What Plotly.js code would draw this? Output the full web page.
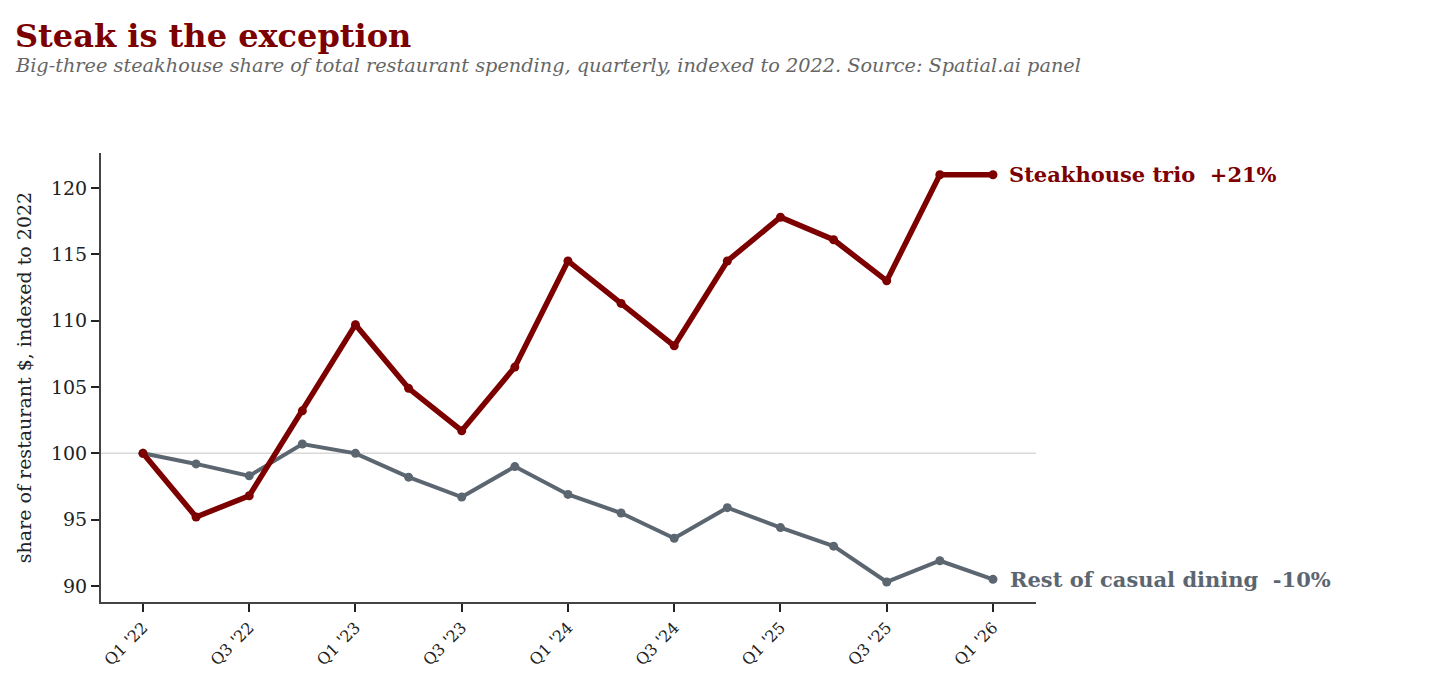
<!DOCTYPE html>
<html>
<head>
<meta charset="utf-8">
<script src="https://cdn.plot.ly/plotly-3.0.1.min.js"></script>
<style>html,body{margin:0;padding:0;background:#fff;}#chart{width:1440px;height:700px;}</style>
</head>
<body>
<div id="chart"></div>
<script>
const quarters = ["Q1 '22","Q2 '22","Q3 '22","Q4 '22","Q1 '23","Q2 '23","Q3 '23","Q4 '23","Q1 '24","Q2 '24","Q3 '24","Q4 '24","Q1 '25","Q2 '25","Q3 '25","Q4 '25","Q1 '26"];
const steakhouse = [100, 95.2, 96.8, 103.2, 109.7, 104.9, 101.7, 106.5, 114.5, 111.3, 108.1, 114.5, 117.8, 116.1, 113.0, 121.0, 121.0];
const restCasual = [100, 99.2, 98.3, 100.7, 100.0, 98.2, 96.7, 99.0, 96.9, 95.5, 93.6, 95.9, 94.4, 93.0, 90.3, 91.9, 90.5];
const tickLabels = ["Q1 '22","Q3 '22","Q1 '23","Q3 '23","Q1 '24","Q3 '24","Q1 '25","Q3 '25","Q1 '26"];
const seriesNames = ["Steakhouse trio", "Rest of casual dining"];
const endLabels = ["Steakhouse trio  +21%", "Rest of casual dining  -10%"];

const FONT = "Georgia, 'DejaVu Serif', serif";
const RED = "#7d0000";
const GRAY = "#5c6670";

const traces = [
  {x: quarters, y: restCasual, name: seriesNames[1], mode: "lines+markers",
   line: {color: GRAY, width: 4}, marker: {color: GRAY, size: 9}},
  {x: quarters, y: steakhouse, name: seriesNames[0], mode: "lines+markers",
   line: {color: RED, width: 5.5}, marker: {color: RED, size: 9}}
];

const layout = {
  width: 1440, height: 700,
  margin: {l: 101, r: 404, t: 153, b: 98},
  paper_bgcolor: "#fff", plot_bgcolor: "#fff",
  showlegend: false,
  font: {family: FONT, color: "#222"},
  title: {
    text: "<b>Steak is the exception</b>",
    x: 0.0104, xanchor: "left", y: 0.965, yanchor: "top",
    font: {family: FONT, size: 32, color: RED}
  },
  xaxis: {
    type: "category", range: [-0.79, 16.81],
    tickmode: "array", tickvals: tickLabels, ticktext: tickLabels,
    tickangle: -45, ticks: "outside", ticklen: 8, tickwidth: 2, tickcolor: "#222",
    showline: true, linecolor: "#444", linewidth: 2, showgrid: false, zeroline: false,
    tickfont: {family: FONT, size: 16, color: "#222"}
  },
  yaxis: {
    range: [88.79, 122.64], tickvals: [90, 95, 100, 105, 110, 115, 120],
    ticks: "outside", ticklen: 8, tickwidth: 2, tickcolor: "#222",
    showline: true, linecolor: "#444", linewidth: 2, showgrid: false, zeroline: false,
    tickfont: {family: FONT, size: 19, color: "#222"},
    title: {text: "share of restaurant $, indexed to 2022", font: {family: FONT, size: 19, color: "#222"}, standoff: 14}
  },
  shapes: [
    {type: "line", xref: "paper", x0: 0, x1: 1, yref: "y", y0: 100, y1: 100,
     line: {color: "#d9d9d9", width: 1.5}, layer: "below"}
  ],
  annotations: [
    {xref: "paper", yref: "paper", x: -0.0941, y: (602 - 66) / 449, xanchor: "left", yanchor: "middle",
     text: "<i>Big-three steakhouse share of total restaurant spending, quarterly, indexed to 2022. Source: Spatial.ai panel</i>",
     showarrow: false, font: {family: FONT, size: 19.3, color: "#666"}},
    {xref: "x", yref: "y", x: quarters[16], y: steakhouse[16], xanchor: "left", yanchor: "middle",
     xshift: 14, text: "<b>" + endLabels[0] + "</b>", showarrow: false,
     font: {family: FONT, size: 21, color: RED}},
    {xref: "x", yref: "y", x: quarters[16], y: restCasual[16], xanchor: "left", yanchor: "middle",
     xshift: 15, text: "<b>" + endLabels[1] + "</b>", showarrow: false,
     font: {family: FONT, size: 21, color: GRAY}}
  ]
};

Plotly.newPlot("chart", traces, layout, {displayModeBar: false, responsive: false});
</script>
</body>
</html>
